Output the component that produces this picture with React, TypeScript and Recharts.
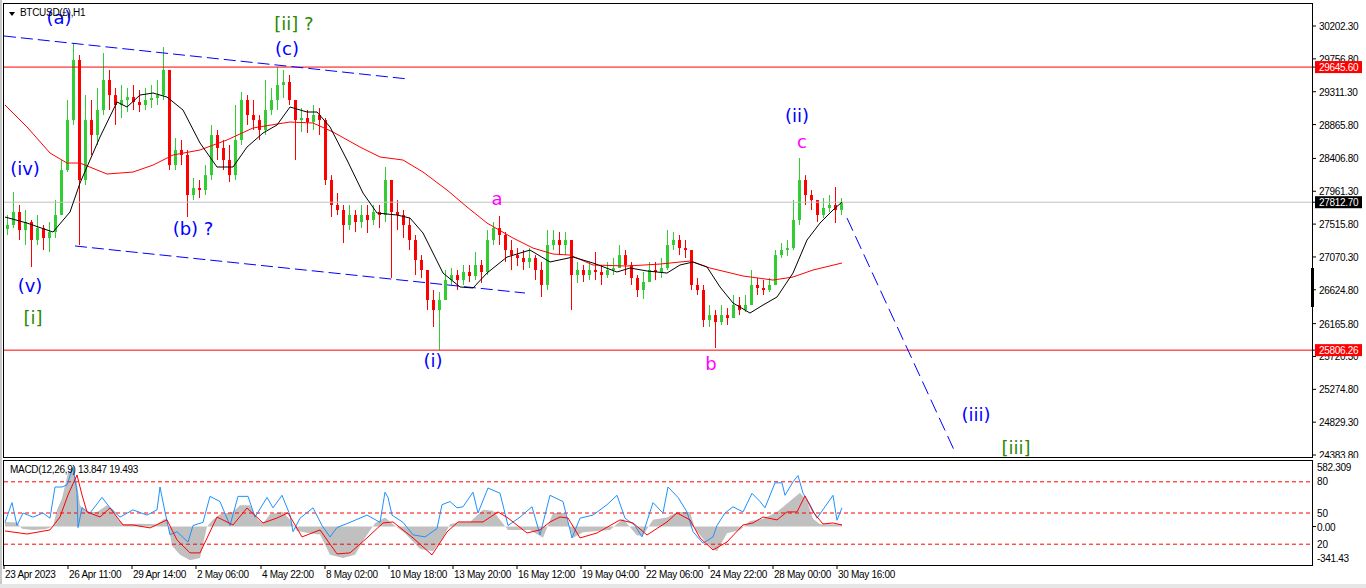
import React from 'react';
import { ComposedChart, Bar, Line, Area, XAxis, YAxis, ReferenceLine, ReferenceDot } from 'recharts';

const AXIS_FONT = '"Liberation Sans", Arial, sans-serif';
const LABEL_FONT = '"DejaVu Sans", sans-serif';
const UP = '#32cd32';
const DOWN = '#ff0000';
const W_BLUE = '#0000ff';
const W_GREEN = '#2b8a00';
const W_PINK = '#ff00ff';

// time axis: bar index (hourly bars)
const T_MAX = 1308;
const HOURS_PER_CANDLE = 6;
const TIME_TICKS = [0, 64, 128, 192, 257, 321, 385, 449, 513, 577, 641, 705, 769, 833];
const TIME_LABELS = ['23 Apr 2023', '26 Apr 11:00', '29 Apr 14:00', '2 May 06:00', '4 May 22:00', '8 May 02:00', '10 May 18:00', '13 May 20:00', '16 May 12:00', '19 May 04:00', '22 May 06:00', '24 May 22:00', '28 May 00:00', '30 May 16:00'];

// price axis
const P_MIN = 24357;
const P_MAX = 30501;
const PRICE_TICKS = [30202.3, 29756.8, 29311.3, 28865.8, 28406.8, 27961.3, 27515.8, 27070.3, 26624.8, 26165.8, 25720.3, 25274.8, 24829.3, 24383.8];
const RESIST = 29645.6;
const SUPPORT = 25806.26;
const LAST = 27812.7;

// candles (6h resolution)
const OPEN0 = 27450;
const CLOSE = [27503, 27680, 27435, 27544, 27300, 27462, 27327, 27408, 27639, 28249, 28927, 29741, 28114, 28927, 28724, 29063, 29470, 29266, 29131, 29199, 29239, 29172, 29131, 29199, 29226, 29266, 29606, 28316, 28521, 28453, 27910, 28005, 27978, 28180, 28724, 28548, 28385, 28180, 28657, 29199, 28995, 28927, 28793, 29063, 29199, 29402, 29443, 29199, 28927, 28955, 28900, 28995, 28927, 28114, 27775, 27707, 27503, 27639, 27544, 27639, 27571, 27680, 27639, 28114, 27680, 27639, 27503, 27300, 27029, 26893, 26486, 26350, 26486, 26757, 26825, 26757, 26866, 26812, 26961, 26866, 27300, 27462, 27368, 27164, 27096, 27056, 27002, 27056, 26893, 26690, 27232, 27300, 27232, 27300, 26825, 26893, 26825, 26893, 26866, 26825, 26893, 26920, 27096, 26961, 26785, 26622, 26730, 26893, 26866, 26920, 27232, 27300, 27191, 27164, 26690, 26622, 26215, 26282, 26187, 26282, 26242, 26418, 26350, 26418, 26690, 26649, 26622, 26690, 27096, 27164, 27191, 27571, 28114, 27910, 27842, 27639, 27734, 27775, 27707, 27812.7];
const HIGH = [27639, 27951, 27775, 27707, 27571, 27639, 27503, 27544, 27842, 28385, 29199, 29972, 29809, 29266, 29199, 29361, 29836, 29606, 29361, 29402, 29361, 29402, 29334, 29361, 29402, 29470, 29918, 29606, 28683, 28657, 28521, 28141, 28114, 28316, 28860, 28793, 28657, 28589, 29131, 29307, 29266, 29199, 28995, 29470, 29361, 29646, 29606, 29538, 29199, 29090, 29063, 29131, 29090, 28955, 28180, 27937, 27775, 27775, 27707, 27775, 27775, 27775, 27775, 28290, 28046, 27842, 27707, 27598, 27368, 27096, 26690, 26622, 26595, 26893, 26920, 26893, 26961, 26961, 27137, 27029, 27435, 27544, 27625, 27408, 27300, 27191, 27164, 27191, 27096, 27002, 27435, 27435, 27408, 27408, 27232, 27002, 26961, 27002, 27137, 26961, 27002, 27056, 27232, 27164, 27002, 26825, 26866, 27002, 27002, 27056, 27435, 27408, 27368, 27300, 27164, 26785, 26690, 26418, 26350, 26418, 26377, 26554, 26527, 26554, 26893, 26785, 26757, 26785, 27164, 27259, 27300, 27842, 28412, 28180, 27978, 27842, 27870, 27910, 28019, 27870];
const LOW = [27368, 27462, 27300, 27232, 26934, 27232, 27164, 27137, 27327, 27639, 28222, 28860, 27232, 28046, 28453, 28589, 28995, 29063, 28860, 28955, 29036, 29063, 29036, 29063, 29090, 29131, 29199, 28249, 28249, 28316, 27612, 27842, 27870, 27910, 28114, 28385, 28249, 28087, 28114, 28589, 28860, 28793, 28657, 28724, 28995, 29063, 29226, 29131, 28385, 28765, 28751, 28793, 28724, 28046, 27612, 27639, 27259, 27435, 27408, 27462, 27395, 27503, 27462, 27544, 26785, 27435, 27327, 27164, 26825, 26785, 26350, 26120, 25808, 26622, 26690, 26622, 26690, 26730, 26757, 26717, 26825, 27232, 27232, 27002, 26893, 26947, 26893, 26920, 26757, 26527, 26622, 27164, 27096, 27096, 26350, 26717, 26730, 26757, 26757, 26690, 26785, 26825, 26920, 26825, 26690, 26527, 26500, 26730, 26757, 26785, 26893, 27164, 27096, 27056, 26622, 26554, 26120, 26120, 25835, 26147, 26147, 26282, 26282, 26323, 26486, 26554, 26554, 26595, 26690, 27056, 27083, 27164, 27503, 27775, 27707, 27544, 27598, 27680, 27530, 27639];

// moving averages [bar, price]
const MA_FAST = [[1, 27612], [23, 27530], [49, 27408], [66, 27680], [76, 28073], [96, 28697], [113, 29172], [123, 29104], [136, 29266], [149, 29294], [163, 29239], [179, 29063], [196, 28616], [213, 28290], [229, 28290], [243, 28561], [259, 28751], [273, 28860], [286, 29104], [303, 29036], [313, 29036], [326, 28833], [343, 28385], [359, 27937], [373, 27666], [393, 27639], [406, 27598], [419, 27395], [429, 27124], [439, 26852], [456, 26663], [469, 26649], [483, 26852], [503, 27069], [526, 27164], [546, 27002], [569, 27069], [589, 26988], [613, 26866], [626, 26920], [643, 26880], [663, 26852], [676, 26961], [689, 27002], [703, 26934], [716, 26663], [729, 26446], [746, 26309], [759, 26418], [773, 26527], [789, 26852], [803, 27300], [816, 27530], [829, 27707], [838, 27815]];
const MA_SLOW = [[1, 29131], [23, 28833], [46, 28480], [63, 28344], [76, 28344], [103, 28195], [129, 28222], [149, 28316], [169, 28453], [196, 28521], [223, 28657], [249, 28819], [273, 28873], [286, 28900], [309, 28887], [329, 28765], [356, 28561], [376, 28426], [399, 28385], [419, 28222], [443, 27978], [463, 27748], [483, 27530], [509, 27327], [529, 27191], [549, 27110], [566, 27096], [589, 26961], [623, 26947], [656, 26974], [686, 27015], [706, 26920], [739, 26812], [769, 26757], [789, 26798], [809, 26893], [838, 26988]];

// trend lines [bar, price]
const CHANNEL_TOP = [[0, 30067], [404, 29484]];
const CHANNEL_BOTTOM = [[71, 27219], [521, 26581]];
const PROJECTION = [[843, 27598], [951, 24424]];

// wave labels
const WAVE_TEXT = ['(a)', '[ii] ?', '(c)', '(iv)', '(v)', '[i]', '(b) ?', 'a', '(i)', 'b', '(ii)', 'c', '(iii)', '[iii]'];
const WAVE_T = [55, 290, 283, 21, 26, 29, 189, 493, 429, 707, 793, 798, 972, 1012];
const WAVE_PRICE = [30230, 30148, 29809, 28182, 26595, 26160, 27368, 27775, 25578, 25537, 28900, 28548, 24845, 24398];
const WAVE_COLOR = [W_BLUE, W_GREEN, W_BLUE, W_BLUE, W_BLUE, W_GREEN, W_BLUE, W_PINK, W_BLUE, W_PINK, W_BLUE, W_PINK, W_BLUE, W_GREEN];

// MACD panel
const MACD_MAX = 582.309;
const MACD_MIN = -341.43;
const MACD_TICKS = [582.309, 0, -341.43];
const MACD_TICK_LABELS = ['582.309', '0.00', '-341.43'];
const OSC_LEVELS = [80, 50, 20];
const OSC = [[1, 41], [8, 60], [13, 38], [19, 50], [29, 46], [39, 50], [46, 45], [51, 75], [58, 75], [63, 77], [69, 94], [73, 70], [74, 36], [78, 55], [86, 50], [98, 65], [106, 55], [116, 46], [129, 53], [143, 48], [153, 53], [156, 75], [161, 51], [166, 29], [173, 32], [184, 22], [189, 38], [199, 41], [206, 66], [216, 61], [226, 38], [234, 66], [244, 66], [251, 46], [263, 65], [269, 55], [278, 67], [286, 48], [289, 32], [296, 45], [309, 55], [318, 38], [326, 27], [333, 36], [346, 41], [363, 48], [376, 41], [381, 70], [384, 65], [388, 48], [399, 41], [409, 29], [421, 27], [433, 35], [438, 58], [446, 61], [453, 55], [459, 56], [469, 70], [474, 50], [484, 74], [496, 69], [504, 38], [516, 46], [528, 56], [536, 29], [546, 67], [559, 61], [568, 26], [576, 45], [589, 48], [603, 58], [613, 67], [621, 45], [631, 38], [638, 27], [649, 60], [659, 50], [664, 75], [674, 65], [683, 51], [689, 32], [699, 21], [709, 27], [713, 38], [721, 50], [729, 56], [739, 51], [748, 69], [756, 61], [761, 55], [771, 79], [778, 79], [781, 67], [789, 80], [794, 86], [799, 69], [806, 58], [813, 45], [821, 56], [829, 67], [833, 43], [838, 55]];
const SIGNAL = [[1, -39], [23, -66], [46, -30], [56, 85], [64, 281], [73, 458], [78, 281], [83, 130], [96, 85], [106, 165], [119, 14], [129, 14], [146, -12], [163, 59], [173, -119], [186, -234], [196, -234], [213, 85], [229, 14], [243, 165], [259, 32], [273, 76], [284, 121], [298, -92], [316, -30], [333, -243], [346, -234], [363, -101], [379, 32], [389, 41], [409, -101], [428, -252], [443, -48], [454, 41], [479, 41], [494, 130], [504, 76], [523, -57], [536, -30], [546, 41], [556, 85], [564, 76], [576, -101], [593, -57], [616, 59], [629, 32], [643, -75], [663, 41], [673, 121], [686, 59], [696, -101], [709, -208], [723, -137], [739, 14], [749, 32], [759, 85], [773, 59], [783, 130], [793, 130], [801, 272], [809, 130], [819, 23], [829, 32], [838, 14]];
const HIST = [[1, 40], [13, 35], [18, -20], [29, -30], [41, -25], [49, 0], [53, 150], [58, 250], [64, 480], [69, 520], [73, 380], [76, 190], [83, 130], [93, 130], [103, 190], [109, 150], [114, 60], [119, 20], [136, 25], [153, 20], [159, 60], [163, 75], [168, -170], [176, -250], [186, -300], [196, -280], [203, 0], [209, 60], [216, 110], [229, 130], [236, 190], [246, 190], [254, 60], [259, 30], [266, 110], [279, 130], [286, 60], [293, -40], [306, -60], [316, -70], [326, -250], [339, -280], [351, -250], [361, -100], [371, 30], [381, 80], [389, 20], [401, -60], [416, -200], [429, -220], [439, -100], [446, 20], [456, 40], [466, 40], [479, 150], [489, 140], [504, -30], [526, -30], [539, -100], [549, 120], [561, 120], [569, -100], [579, -50], [606, -30], [619, 70], [633, -80], [639, -80], [649, 60], [663, 80], [673, 130], [686, 130], [691, -20], [701, -130], [709, -200], [713, -220], [723, -60], [736, -30], [746, 50], [759, 70], [773, 130], [796, 300], [803, 230], [809, 70], [816, 20], [838, 20]];

const candles = CLOSE.map((c, i) => {
  const o = i === 0 ? OPEN0 : CLOSE[i - 1];
  const h = Math.max(HIGH[i], o, c);
  const l = Math.min(LOW[i], o, c);
  return { t: 3 + i * HOURS_PER_CANDLE, open: o, close: c, high: h, low: l, range: [l, h] };
});
const toPts = (arr: number[][]) => arr.map(([t, v]) => ({ t, v }));
const maFast = toPts(MA_FAST);
const maSlow = toPts(MA_SLOW);
const oscData = toPts(OSC);
const signalData = toPts(SIGNAL);
const histData = toPts(HIST);
const seg = (arr: number[][]) => arr.map(([x, y]) => ({ x, y }));

const Candle = (props: any) => {
  const { x, y, width, height, payload } = props;
  if (x == null || y == null || !payload) return null;
  const top = Math.min(y, y + height);
  const h = Math.abs(height);
  const { open, close, high, low } = payload;
  const color = close >= open ? UP : DOWN;
  const cx = Math.round(x + width / 2) + 0.5;
  const ratio = h / (high - low || 1);
  const bTop = top + (high - Math.max(open, close)) * ratio;
  const bBot = top + (high - Math.min(open, close)) * ratio;
  return (
    <g>
      <line x1={cx} x2={cx} y1={top} y2={top + h} stroke={color} strokeWidth={1} />
      <rect x={cx - 1.5} y={bTop} width={3} height={Math.max(1, bBot - bTop)} fill={color} />
    </g>
  );
};

const PriceTick = (props: any) => {
  const { x, y, payload } = props;
  const v = payload.value;
  const label = Number(v).toFixed(2);
  const box = v === RESIST || v === SUPPORT ? '#ff0000' : v === LAST ? '#000000' : null;
  if (box) {
    return (
      <g>
        <rect x={x - 4} y={y - 6} width={47} height={12} fill={box} />
        <text x={x} y={y} dy={4} fill="#ffffff" fontSize={10} fontFamily={AXIS_FONT} letterSpacing={-0.3}>{label}</text>
      </g>
    );
  }
  return <text x={x} y={y} dy={4} fill="#000" fontSize={10} fontFamily={AXIS_FONT} letterSpacing={-0.3}>{label}</text>;
};

const MacdTick = (props: any) => {
  const { x, y, payload } = props;
  const v = payload.value;
  const idx = MACD_TICKS.indexOf(v);
  const shift = v === MACD_MAX ? 6 : v === MACD_MIN ? -7 : 0;
  return (
    <g>
      {v === 0 && <line x1={x - 5} x2={x - 1} y1={y} y2={y} stroke="#000" />}
      <text x={x} y={y + shift} dy={4} fill="#000" fontSize={10} fontFamily={AXIS_FONT} letterSpacing={-0.3}>{MACD_TICK_LABELS[idx]}</text>
    </g>
  );
};

const TimeTick = (props: any) => {
  const { x, y, payload } = props;
  const idx = TIME_TICKS.indexOf(payload.value);
  return (
    <text x={x + 1} y={y} dy="0.71em" fill="#000" fontSize={10} fontFamily={AXIS_FONT} letterSpacing={-0.3} textAnchor="start">{TIME_LABELS[idx]}</text>
  );
};

const waveLabel = (i: number) => (p: any) => {
  const vb = p.viewBox || {};
  const cx = vb.x + (vb.width || 0) / 2;
  const cy = vb.y + (vb.height || 0) / 2;
  return (
    <text x={cx} y={cy} textAnchor="middle" fill={WAVE_COLOR[i]} fontSize={18} fontFamily={LABEL_FONT}>{WAVE_TEXT[i]}</text>
  );
};

export default function App() {
  return (
    <div style={{ position: 'absolute', left: 0, top: 0, width: 1366, height: 588, background: '#fff', overflow: 'hidden' }}>
      <div style={{ position: 'absolute', left: 0, top: 0 }}>
        <ComposedChart width={1366} height={458} data={candles} margin={{ top: 4, right: 0, bottom: 1, left: 4 }}>
          <XAxis dataKey="t" type="number" domain={[0, T_MAX]} allowDataOverflow hide />
          <YAxis
            orientation="right"
            type="number"
            domain={[P_MIN, P_MAX]}
            allowDataOverflow
            ticks={[...PRICE_TICKS, RESIST, LAST, SUPPORT]}
            interval={0}
            width={54}
            axisLine={false}
            tickSize={4}
            tickMargin={3}
            tickLine={{ stroke: '#000' }}
            tick={(p: any) => <PriceTick {...p} />}
          />
          <ReferenceLine y={LAST} stroke="#c0c0c0" strokeWidth={1} />
          <ReferenceLine y={RESIST} stroke="#ff0000" strokeWidth={1} />
          <ReferenceLine y={SUPPORT} stroke="#ff0000" strokeWidth={1} />
          <ReferenceLine segment={seg(CHANNEL_TOP)} stroke={W_BLUE} strokeDasharray="12 5" />
          <ReferenceLine segment={seg(CHANNEL_BOTTOM)} stroke={W_BLUE} strokeDasharray="12 5" />
          <ReferenceLine segment={seg(PROJECTION)} stroke={W_BLUE} strokeDasharray="14 6" />
          <Bar dataKey="range" barSize={3} shape={(p: any) => <Candle {...p} />} isAnimationActive={false} />
          <Line data={maSlow} dataKey="v" stroke="#ff0000" strokeWidth={1} dot={false} isAnimationActive={false} />
          <Line data={maFast} dataKey="v" stroke="#000000" strokeWidth={1} dot={false} isAnimationActive={false} />
          {WAVE_TEXT.map((_, i) => (
            <ReferenceDot key={i} x={WAVE_T[i]} y={WAVE_PRICE[i]} r={1} fill="none" stroke="none" label={waveLabel(i)} />
          ))}
        </ComposedChart>
      </div>
      <div style={{ position: 'absolute', left: 0, top: 458 }}>
        <ComposedChart width={1366} height={130} data={oscData} margin={{ top: 3, right: 0, bottom: 0, left: 4 }}>
          <XAxis
            dataKey="t"
            type="number"
            domain={[0, T_MAX]}
            allowDataOverflow
            ticks={TIME_TICKS}
            interval={0}
            height={23}
            axisLine={false}
            tickSize={4}
            tickMargin={2}
            tickLine={{ stroke: '#000' }}
            tick={(p: any) => <TimeTick {...p} />}
          />
          <YAxis yAxisId="b" type="number" domain={[0, 100]} allowDataOverflow hide />
          <YAxis
            yAxisId="m"
            orientation="right"
            type="number"
            domain={[MACD_MIN, MACD_MAX]}
            allowDataOverflow
            ticks={MACD_TICKS}
            interval={0}
            width={54}
            axisLine={false}
            tickLine={false}
            tickSize={0}
            tickMargin={5}
            tick={(p: any) => <MacdTick {...p} />}
          />
          <Area yAxisId="m" data={histData} dataKey="v" type="linear" baseValue={0} fill="#c0c0c0" fillOpacity={1} stroke="none" isAnimationActive={false} />
          {OSC_LEVELS.map((lv) => (
            <ReferenceLine
              key={lv}
              yAxisId="b"
              y={lv}
              stroke="#ff0000"
              strokeDasharray="4 3"
              label={{ value: String(lv), position: 'right', offset: 5, fill: '#000', fontSize: 10, fontFamily: AXIS_FONT }}
            />
          ))}
          <Line yAxisId="b" dataKey="v" stroke="#1e90ff" strokeWidth={1} dot={false} isAnimationActive={false} />
          <Line yAxisId="m" data={signalData} dataKey="v" stroke="#ff0000" strokeWidth={1} dot={false} isAnimationActive={false} />
        </ComposedChart>
      </div>
      {/* frames */}
      <div style={{ position: 'absolute', left: 3, top: 3, width: 1310, height: 455, border: '1px solid #000', boxSizing: 'border-box', pointerEvents: 'none' }} />
      <div style={{ position: 'absolute', left: 3, top: 460, width: 1310, height: 106, border: '1px solid #000', boxSizing: 'border-box', pointerEvents: 'none' }} />
      <div style={{ position: 'absolute', left: 1311, top: 268, width: 3, height: 39, background: '#000' }} />
      <div style={{ position: 'absolute', left: 0, top: 0, width: 2, height: 588, background: '#c8c8c8' }} />
      <div style={{ position: 'absolute', left: 0, top: 584, width: 1366, height: 4, background: '#e6e6e6' }} />
      {/* titles */}
      <div style={{ position: 'absolute', left: 9, top: 12, width: 0, height: 0, borderLeft: '3.5px solid transparent', borderRight: '3.5px solid transparent', borderTop: '4px solid #000' }} />
      <div style={{ position: 'absolute', left: 20, top: 7.5, fontSize: 10, lineHeight: '10px', fontFamily: AXIS_FONT, letterSpacing: -0.3, color: '#000', whiteSpace: 'nowrap' }}>BTCUSD(£),H1</div>
      <div style={{ position: 'absolute', left: 10, top: 465, fontSize: 10, lineHeight: '10px', fontFamily: AXIS_FONT, letterSpacing: -0.3, color: '#000', whiteSpace: 'nowrap' }}>MACD(12,26,9) 13.847 19.493</div>
    </div>
  );
}
